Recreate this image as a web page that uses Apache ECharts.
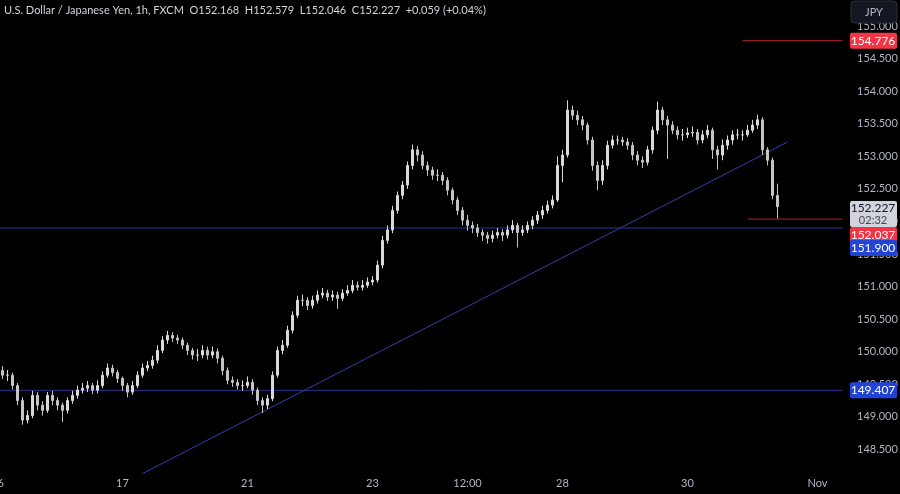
<!DOCTYPE html>
<html><head><meta charset="utf-8">
<script src="https://cdn.jsdelivr.net/npm/echarts@6/dist/echarts.min.js"></script>
<style>html,body{margin:0;background:#000}#c{width:900px;height:494px}</style>
</head><body><div id="c"></div>
<script>
const firstOpen = 149.80;
const closes = [149.71,149.64,149.64,149.48,149.25,148.95,149.02,149.33,149.18,149.10,149.33,149.25,149.18,149.10,149.25,149.33,149.41,149.44,149.48,149.41,149.48,149.64,149.75,149.68,149.59,149.48,149.38,149.48,149.64,149.75,149.79,149.87,150.02,150.18,150.25,150.21,150.18,150.10,150.02,149.95,149.95,150.02,149.95,150.00,149.90,149.71,149.56,149.53,149.48,149.48,149.53,149.41,149.25,149.18,149.28,149.64,150.02,150.10,150.33,150.56,150.79,150.79,150.71,150.79,150.87,150.90,150.84,150.87,150.82,150.90,150.94,151.02,150.99,151.02,151.07,151.10,151.33,151.71,151.87,152.17,152.40,152.56,152.86,153.10,153.02,152.86,152.79,152.71,152.71,152.63,152.48,152.33,152.17,152.02,151.94,151.90,151.83,151.79,151.74,151.79,151.83,151.79,151.87,151.94,151.83,151.87,151.94,152.02,152.10,152.17,152.25,152.33,152.86,153.02,153.71,153.63,153.56,153.48,153.25,152.86,152.63,152.86,153.17,153.25,153.25,153.22,153.17,153.02,152.94,152.91,153.10,153.40,153.71,153.56,153.48,153.40,153.33,153.33,153.36,153.37,153.25,153.33,153.40,153.10,153.02,153.17,153.25,153.33,153.33,153.33,153.40,153.48,153.56,153.10,152.94,152.40,152.227];
const highs = [149.85,149.78,149.72,149.68,149.52,149.30,149.10,149.40,149.38,149.24,149.38,149.40,149.30,149.22,149.30,149.40,149.48,149.52,149.55,149.52,149.56,149.70,149.82,149.80,149.72,149.62,149.52,149.55,149.70,149.82,149.86,149.94,150.10,150.24,150.32,150.30,150.26,150.22,150.14,150.06,150.04,150.10,150.08,150.08,150.05,149.94,149.76,149.62,149.58,149.56,149.62,149.58,149.45,149.30,149.34,149.70,150.08,150.18,150.40,150.62,150.86,150.88,150.84,150.86,150.94,150.98,150.95,150.94,150.92,150.96,151.02,151.10,151.08,151.10,151.14,151.16,151.40,151.78,151.94,152.24,152.46,152.62,152.92,153.18,153.16,153.08,152.92,152.84,152.80,152.76,152.68,152.52,152.38,152.22,152.10,152.00,151.96,151.88,151.84,151.86,151.90,151.88,151.94,152.02,151.98,151.94,152.00,152.08,152.16,152.24,152.32,152.40,153.00,153.10,153.86,153.78,153.70,153.62,153.52,153.30,152.92,152.94,153.24,153.32,153.32,153.30,153.28,153.22,153.08,153.00,153.16,153.46,153.84,153.76,153.62,153.54,153.46,153.42,153.44,153.46,153.42,153.40,153.48,153.44,153.16,153.26,153.32,153.40,153.42,153.40,153.48,153.56,153.64,153.60,153.14,152.98,152.579];
const lows = [149.62,149.58,149.55,149.42,149.18,148.88,148.90,148.98,149.10,149.02,149.06,149.18,149.10,148.92,149.05,149.20,149.28,149.36,149.38,149.35,149.36,149.44,149.60,149.62,149.52,149.40,149.30,149.34,149.44,149.60,149.70,149.74,149.82,149.98,150.12,150.15,150.12,150.04,149.95,149.88,149.86,149.90,149.88,149.90,149.82,149.64,149.50,149.46,149.42,149.40,149.44,149.34,149.18,149.06,149.12,149.24,149.60,149.96,150.06,150.28,150.52,150.70,150.64,150.66,150.74,150.82,150.78,150.78,150.66,150.78,150.86,150.90,150.94,150.94,150.98,151.02,151.06,151.28,151.66,151.82,152.12,152.34,152.50,152.80,152.92,152.80,152.70,152.64,152.62,152.56,152.40,152.26,152.10,151.94,151.86,151.82,151.76,151.70,151.66,151.68,151.74,151.70,151.74,151.82,151.60,151.78,151.82,151.88,151.96,152.04,152.12,152.20,152.30,152.60,152.98,153.56,153.48,153.40,153.18,152.78,152.48,152.56,152.80,153.12,153.18,153.16,153.10,152.94,152.86,152.82,152.86,153.04,153.34,153.48,152.96,153.34,153.26,153.24,153.28,153.30,153.18,153.20,153.28,152.96,152.80,152.94,153.10,153.18,153.26,153.24,153.30,153.36,153.42,153.02,152.86,152.34,152.046];
const totalSlots = 170;
const tickIdx = [0,25,50,75,94,113,138,164];
const tickText = ['16','17','21','23','12:00','28','30','Nov'];
const hLevels = [151.900,149.407];
const rLevels = [154.776,152.037];
const trend = [[29,148.13],[158,153.22]];
const lastPrice = 152.227;

const cats = [], ohlc = [];
for (let i=0;i<totalSlots;i++){ const k=tickIdx.indexOf(i); cats.push(k>=0?tickText[k]:''); }
let prev = firstOpen;
for (let i=0;i<closes.length;i++){ ohlc.push([prev,closes[i],lows[i],highs[i]]); prev=closes[i]; }

const chart = echarts.init(document.getElementById('c'));
const blue='#28338f', red='#b0272f';
const seg=(a,b,c)=>({type:'line',data:[a,b],symbol:'none',silent:true,z:1,
  lineStyle:{color:c,width:1},emphasis:{disabled:true}});
chart.setOption({
  backgroundColor:'#000',
  animation:false,
  grid:{left:-5,right:55,top:0,bottom:12,containLabel:false,outerBoundsMode:'none'},
  xAxis:{type:'category',data:cats,boundaryGap:true,
    axisLine:{show:false},axisTick:{show:false},splitLine:{show:false},
    axisLabel:{color:'#b2b5be',fontSize:11,fontFamily:'Lato',interval:0,margin:-4}},
  yAxis:{type:'value',position:'right',min:148,max:155.4,interval:0.5,scale:true,
    axisLine:{show:false},axisTick:{show:false},splitLine:{show:false},
    axisLabel:{color:'#b2b5be',fontSize:11,fontFamily:'Lato',margin:12,
      formatter:v=> (v<148.2||v>155.3)?'':v.toFixed(3)}},
  series:[
    seg([0,hLevels[0]],[totalSlots-1,hLevels[0]],blue),
    seg([0,hLevels[1]],[totalSlots-1,hLevels[1]],blue),
    seg([149,rLevels[0]],[totalSlots-1,rLevels[0]],red),
    seg([150,rLevels[1]],[totalSlots-1,rLevels[1]],red),
    seg(trend[0],trend[1],'#3440a6'),
    {type:'candlestick',data:ohlc,barWidth:2,z:3,
    itemStyle:{color:'#d9d9d9',color0:'#c4c4c4',borderColor:'#d9d9d9',borderColor0:'#c4c4c4',borderWidth:1}}
  ]
});
function py(v){ return chart.convertToPixel({gridIndex:0},[0,v])[1]; }
function tag(v,bg,fg,y){ return [
  {type:'rect',shape:{x:850,y:y-8,width:47,height:16,r:2},style:{fill:bg},z:10},
  {type:'text',style:{x:873,y:y,text:v.toFixed(3),fill:fg,font:'12px Lato',align:'center',verticalAlign:'middle'},z:11}]; }
let g=[
  {type:'text',style:{x:4,y:10,text:'U.S. Dollar / Japanese Yen, 1h, FXCM  O152.168  H152.579  L152.046  C152.227  +0.059 (+0.04%)',fill:'#d1d4dc',font:'11px Lato',verticalAlign:'middle'}},
  {type:'rect',shape:{x:851,y:1,width:46,height:22,r:4},style:{fill:'#131722',stroke:'#2a2e39'},z:12},
  {type:'text',style:{x:874,y:12,text:'JPY',fill:'#b2b5be',font:'11px Lato',align:'center',verticalAlign:'middle'},z:13}
];
g=g.concat(tag(rLevels[0],'#f23645','#fff',py(rLevels[0])));
g.push({type:'rect',shape:{x:850,y:201,width:47,height:26,r:2},style:{fill:'#d1d4dc'},z:10});
g.push({type:'text',style:{x:873,y:208,text:lastPrice.toFixed(3),fill:'#131722',font:'12px Lato',align:'center',verticalAlign:'middle'},z:11});
g.push({type:'text',style:{x:873,y:220,text:'02:32',fill:'#434651',font:'11px Lato',align:'center',verticalAlign:'middle'},z:11});
g=g.concat(tag(rLevels[1],'#f23645','#fff',235));
g=g.concat(tag(hLevels[0],'#2144d6','#fff',248));
g=g.concat(tag(hLevels[1],'#2144d6','#fff',py(hLevels[1])));
chart.setOption({graphic:g});
</script></body></html>
